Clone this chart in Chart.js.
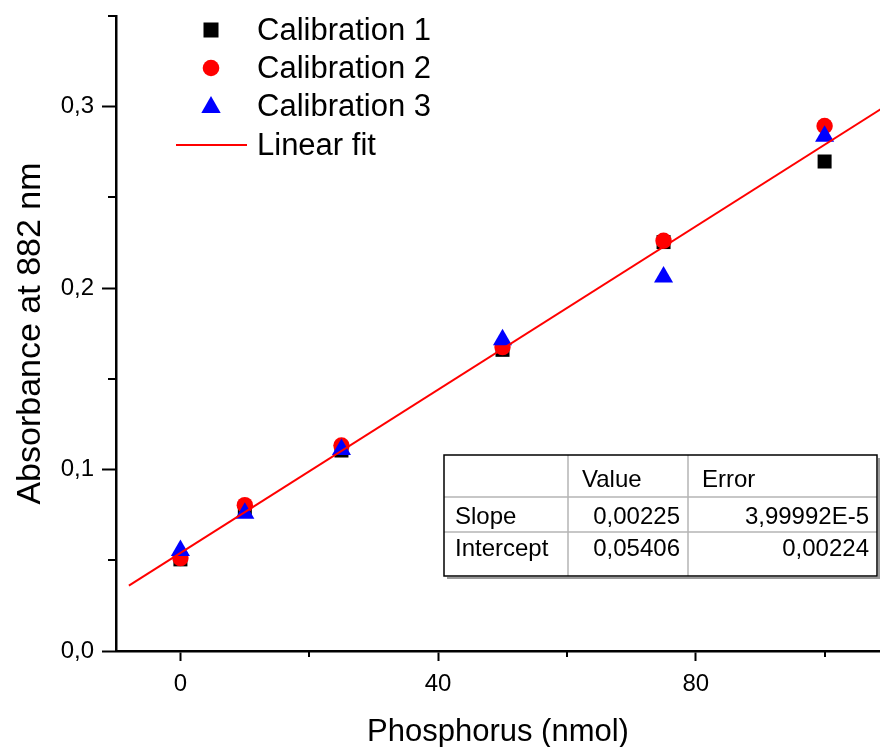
<!DOCTYPE html>
<html>
<head>
<meta charset="utf-8">
<script src="https://cdn.jsdelivr.net/npm/chart.js@4/dist/chart.umd.min.js"></script>
<style>
  html, body { margin: 0; padding: 0; background: #ffffff; }
  #wrap { position: relative; width: 880px; height: 747px; }
</style>
</head>
<body>
<div id="wrap"><canvas id="chart" width="880" height="747"></canvas></div>
<script>
// Phosphorus standards (nmol) and measured absorbance at 882 nm
const phosphorus   = [0, 10, 25, 50, 75, 100];
const calibration1 = [0.0505, 0.0775, 0.1105, 0.1660, 0.2254, 0.2698];
const calibration2 = [0.0512, 0.0804, 0.1133, 0.1675, 0.2261, 0.2894];
const calibration3 = [0.0554, 0.0759, 0.1110, 0.1716, 0.2062, 0.2837];

// Linear regression results
const fitSlope = 0.00225;
const fitIntercept = 0.05406;
const slopeError = 3.99992e-5;
const interceptError = 0.00224;
const fitRange = [-8, 110];

// Axis ranges and tick positions
const xRange = [-10, 108.6];
const yRange = [0, 0.35];
const xMajorTicks = [0, 40, 80];
const yMajorTicks = [0, 0.1, 0.2, 0.3];
const xMinorTicks = [20, 60, 100];
const yMinorTicks = [0.05, 0.15, 0.25, 0.35];

const seriesNames = ['Calibration 1', 'Calibration 2', 'Calibration 3', 'Linear fit'];

const FONT = '"Liberation Sans", Arial, Helvetica, sans-serif';

function toPoints(xs, ys) { return xs.map((x, i) => ({ x: x, y: ys[i] })); }
function comma(str) { return str.replace('.', ','); }
function fmtFixed(v, d) { return comma(v.toFixed(d)); }
function fmtSci(v) { return comma(v.toExponential(5)).replace('e', 'E'); }

const fitLine = fitRange.map(x => ({ x: x, y: fitIntercept + fitSlope * x }));

const tableRows = [
  ['', 'Value', 'Error'],
  ['Slope', fmtFixed(fitSlope, 5), fmtSci(slopeError)],
  ['Intercept', fmtFixed(fitIntercept, 5), fmtFixed(interceptError, 5)]
];

// Short minor tick marks on both axes
const minorTicks = {
  id: 'minorTicks',
  afterDatasetsDraw(chart) {
    const { ctx, scales: { x, y }, chartArea } = chart;
    ctx.save();
    ctx.strokeStyle = '#000';
    ctx.lineWidth = 2;
    xMinorTicks.forEach(v => {
      const px = Math.round(x.getPixelForValue(v));
      ctx.beginPath();
      ctx.moveTo(px, chartArea.bottom);
      ctx.lineTo(px, chartArea.bottom + 6);
      ctx.stroke();
    });
    yMinorTicks.forEach(v => {
      const py = Math.round(y.getPixelForValue(v));
      ctx.beginPath();
      ctx.moveTo(chartArea.left, py);
      ctx.lineTo(chartArea.left - 8, py);
      ctx.stroke();
    });
    ctx.restore();
  }
};

// Legend drawn inside the plot area, top left
const innerLegend = {
  id: 'innerLegend',
  afterDraw(chart) {
    const ctx = chart.ctx;
    const symX = 211, textX = 257;
    const rowY = [30, 68, 106, 145];
    ctx.save();
    ctx.fillStyle = '#000000';
    ctx.fillRect(symX - 7.5, rowY[0] - 7.5, 15, 15);
    ctx.fillStyle = '#ff0000';
    ctx.beginPath();
    ctx.arc(symX, rowY[1], 8.3, 0, Math.PI * 2);
    ctx.fill();
    ctx.fillStyle = '#0000ff';
    ctx.beginPath();
    ctx.moveTo(symX, rowY[2] - 10);
    ctx.lineTo(symX + 9.7, rowY[2] + 7);
    ctx.lineTo(symX - 9.7, rowY[2] + 7);
    ctx.closePath();
    ctx.fill();
    ctx.strokeStyle = '#ff0000';
    ctx.lineWidth = 2;
    ctx.beginPath();
    ctx.moveTo(176, rowY[3]);
    ctx.lineTo(247, rowY[3]);
    ctx.stroke();
    ctx.fillStyle = '#000';
    ctx.font = '31px ' + FONT;
    ctx.textBaseline = 'middle';
    ctx.textAlign = 'left';
    seriesNames.forEach((n, i) => ctx.fillText(n, textX, rowY[i] + 1));
    ctx.restore();
  }
};

// Fit parameter table in the lower right
const fitTable = {
  id: 'fitTable',
  afterDraw(chart) {
    const ctx = chart.ctx;
    const L = 444, R = 877, T = 455, B = 576;
    const rowLines = [497, 532];
    const colLines = [568, 688];
    const baselines = [487, 524, 556];
    ctx.save();
    ctx.fillStyle = '#ffffff';
    ctx.fillRect(L, T, R - L, B - T);
    ctx.strokeStyle = '#9a9a9a';
    ctx.lineWidth = 2;
    ctx.beginPath();
    ctx.moveTo(L + 3, B + 2);
    ctx.lineTo(R + 2, B + 2);
    ctx.lineTo(R + 2, T + 3);
    ctx.stroke();
    ctx.strokeStyle = '#b4b4b4';
    ctx.lineWidth = 1.5;
    rowLines.forEach(yy => { ctx.beginPath(); ctx.moveTo(L, yy); ctx.lineTo(R, yy); ctx.stroke(); });
    colLines.forEach(xx => { ctx.beginPath(); ctx.moveTo(xx, T); ctx.lineTo(xx, B); ctx.stroke(); });
    ctx.strokeStyle = '#000';
    ctx.lineWidth = 1.5;
    ctx.strokeRect(L, T, R - L, B - T);
    ctx.fillStyle = '#000';
    ctx.font = '24px ' + FONT;
    ctx.textBaseline = 'alphabetic';
    tableRows.forEach((row, r) => {
      const by = baselines[r];
      ctx.textAlign = 'left';
      ctx.fillText(row[0], 455, by);
      if (r === 0) {
        ctx.fillText(row[1], 582, by);
        ctx.fillText(row[2], 702, by);
      } else {
        ctx.textAlign = 'right';
        ctx.fillText(row[1], 680, by);
        ctx.fillText(row[2], 869, by);
      }
    });
    ctx.restore();
  }
};

new Chart(document.getElementById('chart'), {
  type: 'scatter',
  data: {
    datasets: [
      {
        label: seriesNames[3], type: 'line', data: fitLine, order: 0,
        borderColor: '#ff0000', borderWidth: 2, pointRadius: 0, fill: false, tension: 0
      },
      {
        label: seriesNames[2], data: toPoints(phosphorus, calibration3), order: 1,
        pointStyle: 'triangle', pointRadius: 11, backgroundColor: '#0000ff', borderColor: '#0000ff', borderWidth: 0
      },
      {
        label: seriesNames[1], data: toPoints(phosphorus, calibration2), order: 2,
        pointStyle: 'circle', pointRadius: 8.2, backgroundColor: '#ff0000', borderColor: '#ff0000', borderWidth: 0
      },
      {
        label: seriesNames[0], data: toPoints(phosphorus, calibration1), order: 3,
        pointStyle: 'rect', pointRadius: 9.9, backgroundColor: '#000000', borderColor: '#000000', borderWidth: 0
      }
    ]
  },
  options: {
    responsive: false,
    animation: false,
    layout: { autoPadding: false, padding: { top: 16, right: 0, left: 0, bottom: 0 } },
    plugins: { legend: { display: false }, tooltip: { enabled: false } },
    scales: {
      x: {
        type: 'linear', min: xRange[0], max: xRange[1],
        border: { display: true, color: '#000', width: 2.5 },
        grid: { drawOnChartArea: false, drawTicks: true, tickLength: 10, tickColor: '#000', tickWidth: 2 },
        ticks: {
          color: '#000', padding: 9, maxRotation: 0, autoSkip: false,
          font: { family: FONT, size: 24 },
          callback: v => String(v)
        },
        afterBuildTicks: s => { s.ticks = xMajorTicks.map(v => ({ value: v })); },
        title: {
          display: true, text: 'Phosphorus (nmol)', color: '#000',
          font: { family: FONT, size: 31 }, padding: { top: 0, bottom: -4 }
        },
        afterFit: s => { s.height = 96; s.paddingLeft = 0; s.paddingRight = 0; }
      },
      y: {
        type: 'linear', min: yRange[0], max: yRange[1],
        border: { display: true, color: '#000', width: 2.5 },
        grid: { drawOnChartArea: false, drawTicks: true, tickLength: 14, tickColor: '#000', tickWidth: 2 },
        ticks: {
          color: '#000', padding: 8, autoSkip: false,
          font: { family: FONT, size: 24 },
          callback: v => fmtFixed(v, 1)
        },
        afterBuildTicks: s => { s.ticks = yMajorTicks.map(v => ({ value: v })); },
        title: {
          display: true, text: 'Absorbance at 882 nm', color: '#000',
          font: { family: FONT, size: 34 }, padding: { top: 10, bottom: 0 }
        },
        afterFit: s => { s.width = 116; s.paddingTop = 0; s.paddingBottom = 0; }
      }
    }
  },
  plugins: [minorTicks, innerLegend, fitTable]
});
</script>
</body>
</html>
